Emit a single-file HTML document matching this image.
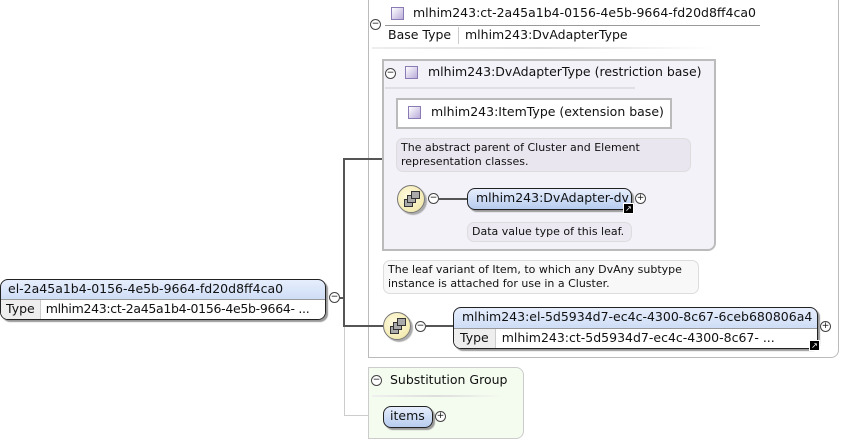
<html><head><style>
body{margin:0;width:841px;height:440px;background:#fff;position:relative;overflow:hidden;font-family:"DejaVu Sans","Liberation Sans",sans-serif;font-size:12.5px;color:#111}
.a{position:absolute;white-space:nowrap}
.c{position:absolute;width:9px;height:9px;border:1px solid #444;border-radius:50%;background:#fff;font-size:9px;line-height:9px;text-align:center}
.sq{position:absolute;width:11px;height:11px;border:1px solid #8a7bb5;background:linear-gradient(135deg,#fff,#b9acd9)}
.node{position:absolute;border:1px solid #222;border-radius:8px;background:linear-gradient(#e6eefc,#b7ccef);box-shadow:2px 2px 1px #999;overflow:hidden;white-space:nowrap}
.note{position:absolute;border:1px solid #ddd;border-radius:7px;font-size:11px;line-height:14px;padding:2px 4px}
.seq{position:absolute;width:26px;height:26px;border:1px solid #777;border-radius:50%;background:radial-gradient(circle at 40% 40%,#fffbe0,#efe4a0);box-shadow:2px 2px 1px #aaa}
.seq i{position:absolute;width:7px;height:6px;border:1px solid #333;background:#aaa}
.lk{position:absolute;width:9px;height:9px;background:#000;border:1px solid #fff;color:#fff;font-size:8px;line-height:9px;text-align:center}
</style></head><body>
<div class="a" style="left:368px;top:-2px;width:469px;height:358px;border:1px solid #bbb;border-radius:0 0 8px 0"></div>
<div class="c" style="left:370px;top:19px">−</div>
<div class="sq" style="left:391px;top:7px"></div>
<div class="a" style="left:413px;top:5px">mlhim243:ct-2a45a1b4-0156-4e5b-9664-fd20d8ff4ca0</div>
<div class="a" style="left:385px;top:25px;width:375px;height:1px;background:#999"></div>
<div class="a" style="left:388px;top:27px">Base Type</div>
<div class="a" style="left:458px;top:27px;width:1px;height:17px;background:#ccc"></div>
<div class="a" style="left:465px;top:27px">mlhim243:DvAdapterType</div>
<div class="a" style="left:372px;top:47px;width:340px;height:2px;background:linear-gradient(90deg,#eee,#ddd,#fff)"></div>

<div class="a" style="left:382px;top:59px;width:330px;height:188px;background:#f4f2f9;border:2px solid #bbb;border-radius:0 0 8px 0"></div>
<div class="c" style="left:385px;top:68px">−</div>
<div class="sq" style="left:405px;top:66px"></div>
<div class="a" style="left:428px;top:64px">mlhim243:DvAdapterType (restriction base)</div>
<div class="a" style="left:385px;top:87px;width:250px;height:2px;background:#e0dfe6"></div>
<div class="a" style="left:396px;top:98px;width:272px;height:27px;background:#fff;border:2px solid #bbb"></div>
<div class="sq" style="left:408px;top:106px"></div>
<div class="a" style="left:431px;top:104px">mlhim243:ItemType (extension base)</div>
<div class="note" style="left:396px;top:138px;width:285px;height:28px;background:#e9e6f0">The abstract parent of Cluster and Element representation classes.</div>
<div class="seq" style="left:397px;top:185px"><i style="left:6px;top:13px"></i><i style="left:9px;top:9px"></i><i style="left:13px;top:5px"></i></div>
<div class="c" style="left:428px;top:193px">−</div>
<div class="a" style="left:439px;top:198px;width:28px;height:2px;background:#555"></div>
<div class="node" style="left:467px;top:188px;width:163px;height:20px"><div style="padding:1px 0 0 8px">mlhim243:DvAdapter-dv</div></div>
<div class="lk" style="left:623px;top:203px">↗</div>
<div class="c" style="left:635px;top:193px">+</div>
<div class="note" style="left:467px;top:222px;width:155px;height:14px;background:#ece9f2">Data value type of this leaf.</div>

<div class="note" style="left:383px;top:260px;width:306px;height:28px;background:#f8f8f8">The leaf variant of Item, to which any DvAny subtype instance is attached for use in a Cluster.</div>
<div class="seq" style="left:383px;top:312px"><i style="left:6px;top:13px"></i><i style="left:9px;top:9px"></i><i style="left:13px;top:5px"></i></div>
<div class="c" style="left:415px;top:321px">−</div>
<div class="a" style="left:426px;top:325px;width:27px;height:2px;background:#555"></div>
<div class="node" style="left:453px;top:307px;width:363px;height:40px"><div style="height:19px;padding:1px 0 0 8px;border-bottom:1px solid #999">mlhim243:el-5d5934d7-ec4c-4300-8c67-6ceb680806a4</div><div style="background:#fff;height:20px;display:flex"><span style="background:#eee;padding:1px 6px;border-right:1px solid #ccc">Type</span><span style="padding:1px 6px">mlhim243:ct-5d5934d7-ec4c-4300-8c67- ...</span></div></div>
<div class="lk" style="left:809px;top:340px">↗</div>
<div class="c" style="left:820px;top:321px">+</div>

<div class="node" style="left:0;top:279px;width:324px;height:39px"><div style="height:18px;padding:1px 0 0 7px;border-bottom:1px solid #999">el-2a45a1b4-0156-4e5b-9664-fd20d8ff4ca0</div><div style="background:#fff;height:20px;display:flex"><span style="background:#eee;padding:1px 5px;border-right:1px solid #ccc">Type</span><span style="padding:1px 5px;letter-spacing:-0.3px">mlhim243:ct-2a45a1b4-0156-4e5b-9664- ...</span></div></div>
<div class="c" style="left:329px;top:292px">−</div>
<div class="a" style="left:340px;top:297px;width:4px;height:2px;background:#555"></div>
<div class="a" style="left:343px;top:158px;width:2px;height:169px;background:#555"></div>
<div class="a" style="left:343px;top:158px;width:39px;height:2px;background:#555"></div>
<div class="a" style="left:343px;top:325px;width:40px;height:2px;background:#555"></div>
<div class="a" style="left:344px;top:327px;width:1px;height:88px;background:#ccc"></div>
<div class="a" style="left:344px;top:415px;width:39px;height:1px;background:#ccc"></div>

<div class="a" style="left:368px;top:367px;width:154px;height:70px;background:#f4fbef;border:1px solid #ccc;border-radius:0 8px 8px 0"></div>
<div class="c" style="left:371px;top:375px">−</div>
<div class="a" style="left:390px;top:372px">Substitution Group</div>
<div class="a" style="left:372px;top:395px;width:130px;height:2px;background:linear-gradient(90deg,#f0f0f0,#ddd,#f4fbef)"></div>
<div class="node" style="left:383px;top:406px;width:48px;height:20px"><div style="padding:1px 0 0 6px">items</div></div>
<div class="c" style="left:435px;top:411px">+</div>
</body></html>
